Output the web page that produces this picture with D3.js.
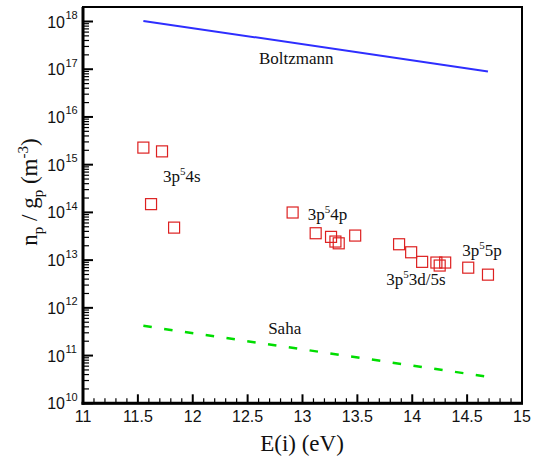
<!DOCTYPE html>
<html><head><meta charset="utf-8">
<script src="https://cdn.jsdelivr.net/npm/d3@7"></script>
<style>body{margin:0;background:#fff}svg{display:block}</style>
</head><body>
<svg id="c" width="534" height="459"></svg>
<script>
const energies = [11.55, 11.72, 11.62, 11.83, 12.91, 13.12, 13.26, 13.30, 13.33, 13.48, 13.88, 13.99, 14.09, 14.22, 14.25, 14.30, 14.51, 14.69];
const densities = [2.28e15, 1.9e15, 1.49e14, 4.8e13, 9.95e13, 3.66e13, 3.07e13, 2.45e13, 2.25e13, 3.27e13, 2.15e13, 1.46e13, 9.2e12, 8.9e12, 7.7e12, 8.9e12, 6.95e12, 4.96e12];
const boltzmannE = [11.55, 14.69];
const boltzmannN = [1.03e18, 9.0e16];
const sahaE = [11.55, 14.69];
const sahaN = [4.2e11, 3.6e10];
const xTicks = [11, 11.5, 12, 12.5, 13, 13.5, 14, 14.5, 15];
const xTickLabels = ["11", "11.5", "12", "12.5", "13", "13.5", "14", "14.5", "15"];
const yExponents = [10, 11, 12, 13, 14, 15, 16, 17, 18];
const annLabels = [["3p", "5", "4s"], ["3p", "5", "4p"], ["3p", "5", "5p"], ["3p", "5", "3d/5s"], ["Saha", "", ""], ["Boltzmann", "", ""]];
const annE = [11.73, 13.048, 14.455, 13.764, 12.687, 12.603];
const annN = [Math.pow(10, 14.63), Math.pow(10, 13.85), Math.pow(10, 13.08), Math.pow(10, 12.485), Math.pow(10, 11.456), Math.pow(10, 17.107)];

const svg = d3.select("#c");
const L = 83, R = 522, T = 7, B = 403.3;
const x = d3.scaleLinear().domain([11, 15]).range([L, R]);
const y = d3.scaleLog().domain([1e10, 1e18]).range([B, 21.5]);

const serif = "'Liberation Serif','Times New Roman',serif";
const sans = "'Liberation Sans',Arial,sans-serif";

// lines
const line = d3.line().x(d => x(d[0])).y(d => y(d[1]));
svg.append("path").datum(boltzmannE.map((e, i) => [e, boltzmannN[i]]))
  .attr("d", line).attr("fill", "none").attr("stroke", "#2e2eff").attr("stroke-width", 2);
svg.append("path").datum(sahaE.map((e, i) => [e, sahaN[i]]))
  .attr("d", line).attr("fill", "none").attr("stroke", "#00dd00").attr("stroke-width", 2.5)
  .attr("stroke-dasharray", "8.5,12.5");

// points
const s = 11;
svg.append("g").selectAll("rect").data(energies.map((e, i) => [e, densities[i]])).join("rect")
  .attr("x", d => x(d[0]) - s / 2).attr("y", d => y(d[1]) - s / 2)
  .attr("width", s).attr("height", s)
  .attr("fill", "none").attr("stroke", "#dd2020").attr("stroke-width", 1.2);

// annotations
annLabels.forEach((a, i) => {
  const t = svg.append("text").attr("x", x(annE[i])).attr("y", y(annN[i]))
    .attr("font-family", serif).attr("font-size", 17).attr("fill", "#111");
  t.append("tspan").text(a[0]);
  if (a[1]) {
    t.append("tspan").attr("dy", -7).attr("font-size", 11).text(a[1]);
    t.append("tspan").attr("dy", 7).text(a[2]);
  }
});

// frame
svg.append("rect").attr("x", L).attr("y", T).attr("width", R - L).attr("height", B - T)
  .attr("fill", "none").attr("stroke", "#000").attr("stroke-width", 2);
svg.append("line").attr("x1", L).attr("x2", L).attr("y1", T).attr("y2", B + 1.5).attr("stroke", "#000").attr("stroke-width", 3);
svg.append("line").attr("x1", L - 1.5).attr("x2", R + 1).attr("y1", B).attr("y2", B).attr("stroke", "#000").attr("stroke-width", 3);

// x axis ticks (inward)
const xg = svg.append("g");
d3.range(110, 151).map(v => v / 10).forEach(v => {
  const major = Math.abs(v * 2 - Math.round(v * 2)) < 1e-6;
  xg.append("line").attr("x1", x(v)).attr("x2", x(v)).attr("y1", B).attr("y2", B - (major ? 9 : 5))
    .attr("stroke", "#000").attr("stroke-width", major ? 2 : 1.2);
});
xTicks.forEach((v, i) => {
  xg.append("text").attr("x", x(v)).attr("y", 422).attr("text-anchor", "middle")
    .attr("font-family", sans).attr("font-size", 16).attr("fill", "#111").text(xTickLabels[i]);
});

// y axis ticks (inward)
const yg = svg.append("g");
yExponents.forEach(k => {
  const yy = y(Math.pow(10, k));
  yg.append("line").attr("x1", L).attr("x2", L + 10).attr("y1", yy).attr("y2", yy)
    .attr("stroke", "#000").attr("stroke-width", 2);
  if (k < 18) {
    for (let m = 2; m <= 9; m++) {
      const ym = y(m * Math.pow(10, k));
      yg.append("line").attr("x1", L).attr("x2", L + 6).attr("y1", ym).attr("y2", ym)
        .attr("stroke", "#000").attr("stroke-width", 1.2);
    }
  }
  yg.append("text").attr("x", 65).attr("y", yy + 6).attr("text-anchor", "end")
    .attr("font-family", sans).attr("font-size", 16).attr("fill", "#111").text("10");
  yg.append("text").attr("x", 65.5).attr("y", yy - 2.5).attr("text-anchor", "start")
    .attr("font-family", sans).attr("font-size", 11).attr("fill", "#111").text(String(k));
});

// axis titles
svg.append("text").attr("x", 302).attr("y", 451).attr("text-anchor", "middle")
  .attr("font-family", serif).attr("font-size", 23).attr("fill", "#111").text("E(i) (eV)");

const yt = svg.append("text").attr("transform", "translate(37,192) rotate(-90)")
  .attr("text-anchor", "middle").attr("font-family", serif).attr("font-size", 23).attr("fill", "#111");
yt.append("tspan").text("n");
yt.append("tspan").attr("dy", 6).attr("font-size", 15).text("p");
yt.append("tspan").attr("dy", -6).text(" / g");
yt.append("tspan").attr("dy", 6).attr("font-size", 15).text("p");
yt.append("tspan").attr("dy", -6).text(" (m");
yt.append("tspan").attr("dy", -9).attr("font-size", 15).text("-3");
yt.append("tspan").attr("dy", 9).text(")");
</script>
</body></html>
